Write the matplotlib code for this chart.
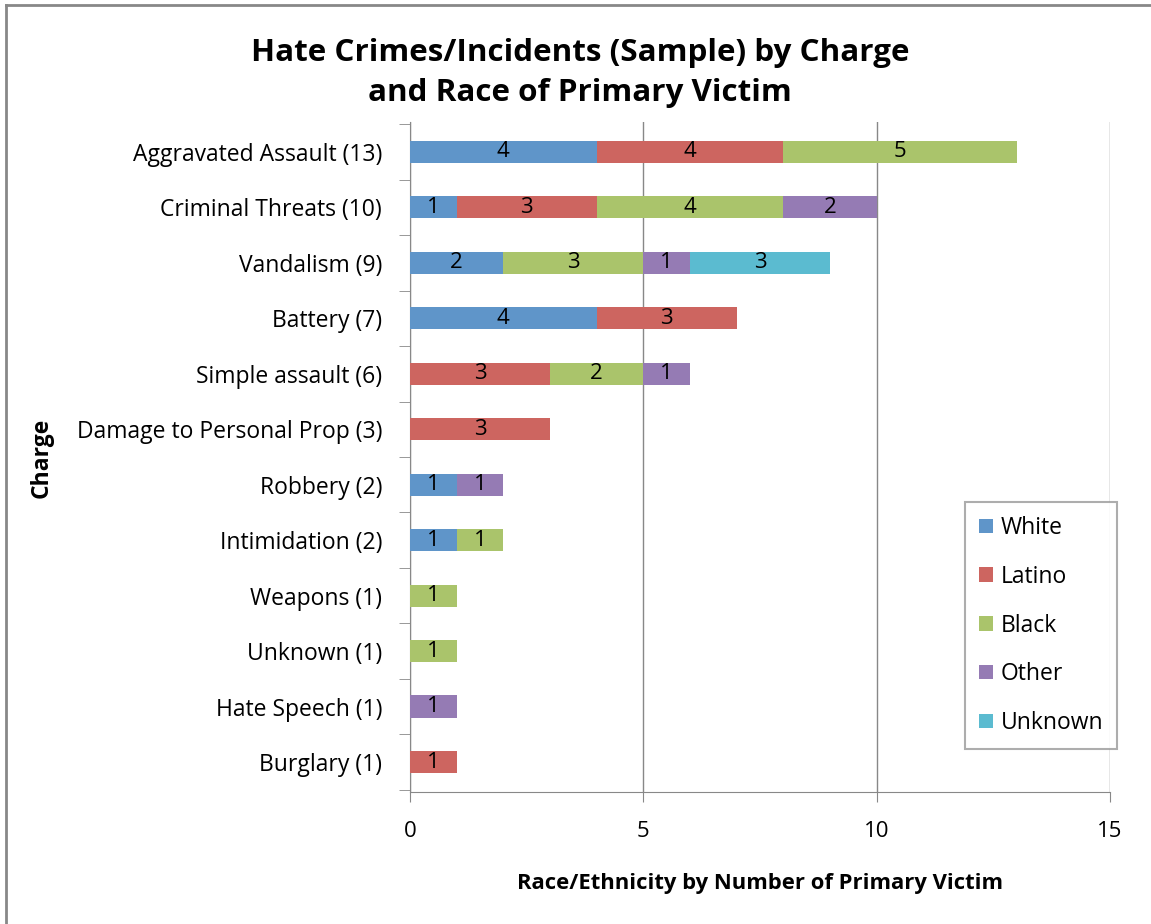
import matplotlib.pyplot as plt
import numpy as np

plt.rcParams['font.family'] = ['Open Sans', 'DejaVu Sans']

# data
charges = ["Aggravated Assault (13)", "Criminal Threats (10)", "Vandalism (9)",
           "Battery (7)", "Simple assault (6)", "Damage to Personal Prop (3)",
           "Robbery (2)", "Intimidation (2)", "Weapons (1)", "Unknown (1)",
           "Hate Speech (1)", "Burglary (1)"]
white   = [4, 1, 2, 4, 0, 0, 1, 1, 0, 0, 0, 0]
latino  = [4, 3, 0, 3, 3, 3, 0, 0, 0, 0, 0, 1]
black   = [5, 4, 3, 0, 2, 0, 0, 1, 1, 1, 0, 0]
other   = [0, 2, 1, 0, 1, 0, 1, 0, 0, 0, 1, 0]
unknown = [0, 0, 3, 0, 0, 0, 0, 0, 0, 0, 0, 0]

series = [("White", white, "#5f95c9"),
          ("Latino", latino, "#cd6560"),
          ("Black", black, "#aac46b"),
          ("Other", other, "#957bb4"),
          ("Unknown", unknown, "#5bbbd0")]

fig = plt.figure(figsize=(11.51, 9.24), dpi=100)
ax = fig.add_axes([0.3562, 0.1429, 0.6082, 0.7251])

y = np.arange(len(charges))
left = np.zeros(len(charges))
for name, vals, col in series:
    vals = np.array(vals)
    bars = ax.barh(y, vals, left=left, height=0.4, color=col, label=name, zorder=3)
    ax.bar_label(bars, labels=[str(v) if v else "" for v in vals],
                 label_type="center", fontsize=16, color="black")
    left += vals

ax.set_ylim(len(charges) - 0.46, -0.54)
ax.set_xlim(0, 15.002)
ax.set_xticks([0, 5, 10, 15])
ax.tick_params(axis="x", labelsize=16, pad=14, length=7, color="#888888")
ax.set_yticks(y)
ax.set_yticklabels(charges, fontsize=16.5)
ax.tick_params(axis="y", length=0, pad=20)
# category separator ticks
ax.set_yticks(np.arange(-0.5, len(charges), 1), minor=True)
ax.tick_params(axis="y", which="minor", length=8, color="#888888", left=True)

ax.grid(axis="x", color="#888888", linewidth=1, zorder=0)
for s in ["top", "right"]:
    ax.spines[s].set_visible(False)
for s in ["left", "bottom"]:
    ax.spines[s].set_color("#888888")

ax.set_xlabel("Race/Ethnicity by Number of Primary Victim", fontsize=15.8,
              fontweight="bold", labelpad=22)
fig.text(0.036, 0.505, "Charge", rotation=90, fontsize=16.5, fontweight="bold",
         ha="center", va="center")
fig.text(0.504, 0.921, "Hate Crimes/Incidents (Sample) by Charge\nand Race of Primary Victim",
         fontsize=22.6, fontweight="bold", ha="center", va="center", linespacing=1.42)

leg = ax.legend(loc="upper left", bbox_to_anchor=(0.7765, 0.4495), fontsize=16.5,
                frameon=True, fancybox=False, edgecolor="#999999",
                handlelength=0.6, handleheight=0.6, labelspacing=1.08,
                handletextpad=0.35, borderpad=0.6)
leg.get_frame().set_linewidth(1.5)

# outer chart border (top and left)
fig.add_artist(plt.Line2D([0.005, 1.0], [0.995, 0.995], color="#888888", linewidth=2))
fig.add_artist(plt.Line2D([0.005, 0.005], [0.0, 0.995], color="#888888", linewidth=2))

fig.savefig("out.png", dpi=100)
